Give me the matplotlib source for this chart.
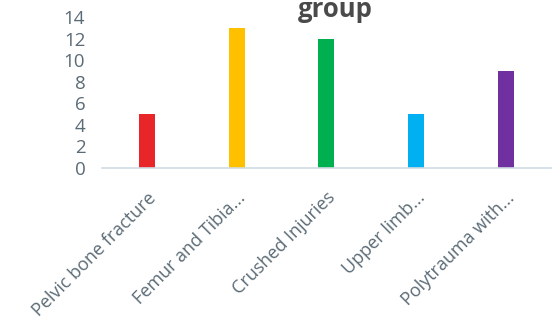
import matplotlib
matplotlib.use("Agg")
import matplotlib.pyplot as plt

categories = ["Pelvic bone fracture", "Femur and Tibia...", "Crushed Injuries",
              "Upper limb...", "Polytrauma with..."]
counts = [5, 13, 12, 5, 9]
bar_colors = ["#e8262a", "#ffc000", "#00b050", "#00b0f0", "#7030a0"]
yticks = [0, 2, 4, 6, 8, 10, 12, 14]

text_color = "#5b6b76"

plt.rcParams["font.family"] = ["Open Sans", "DejaVu Sans"]

fig = plt.figure(figsize=(5.57, 3.34), dpi=100)
ax = fig.add_axes([0.183, 0.497, 0.806, 0.452])

x = range(len(categories))
ax.bar(x, counts, width=0.18, color=bar_colors)

ax.set_xlim(-0.5, 4.5)
ax.set_ylim(0, 14)
ax.set_yticks(yticks)
ax.set_yticklabels([str(v) for v in yticks], fontsize=13.5, color=text_color)
ax.set_xticks(list(x))
ax.set_xticklabels(categories, rotation=45, ha="right", rotation_mode="anchor",
                   fontsize=13, color=text_color)
ax.tick_params(axis="both", length=0)
ax.tick_params(axis="y", pad=12)
ax.tick_params(axis="x", pad=15)

for side in ["top", "right", "left"]:
    ax.spines[side].set_visible(False)
ax.spines["bottom"].set_color("#d0dbe3")
ax.spines["bottom"].set_linewidth(1.2)

# title is cropped at the top in the source image, only its last line shows
fig.text(0.602, 1 - 17 / 334, "group", ha="center", va="baseline", fontsize=18.5,
         fontweight="bold", color="#4a4a4a")

fig.savefig("out.png", dpi=100)
